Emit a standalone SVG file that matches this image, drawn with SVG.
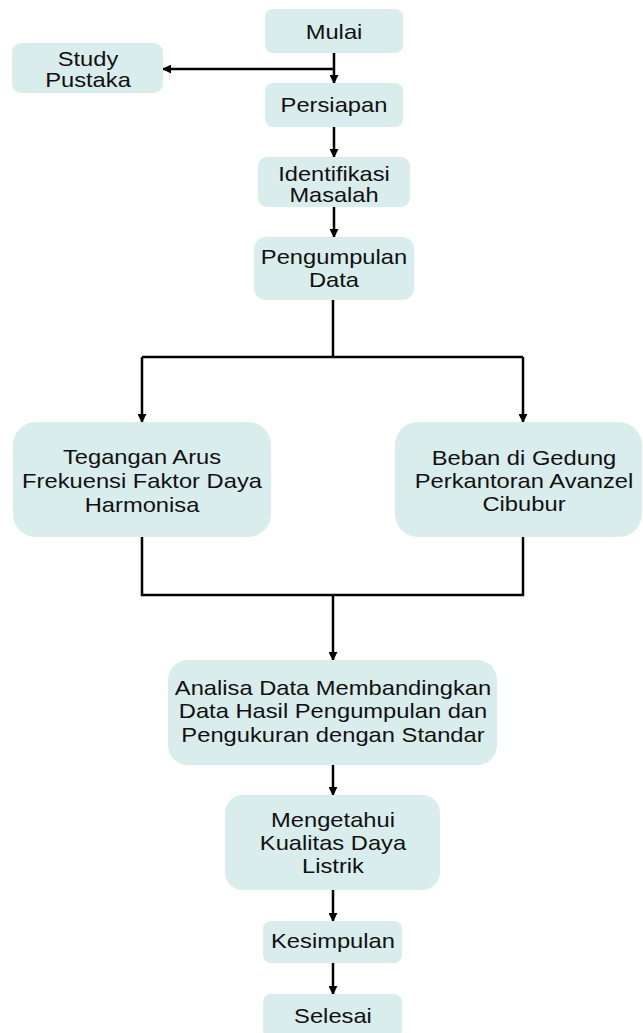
<svg xmlns="http://www.w3.org/2000/svg" width="643" height="1033" viewBox="0 0 643 1033">
  <style>
    .box { fill: #d9edec; stroke: none; }
    .lbl { font-family: "Liberation Sans", Arial, sans-serif; font-size: 21px; fill: #111; text-anchor: middle; }
    .tight { font-size: 20px; }
    .conn { fill: none; stroke: #000; stroke-width: 2.5; }
  </style>
  <defs>
    <marker id="arr" viewBox="0 0 10 10" refX="9" refY="5" markerWidth="9" markerHeight="9" markerUnits="userSpaceOnUse" orient="auto">
      <path d="M0,0 L10,5 L0,10 z" fill="#000"/>
    </marker>
  </defs>
  <rect width="643" height="1033" fill="#fff"/>

  <g id="connectors">
    <path class="conn" d="M334,53 V83" marker-end="url(#arr)"/>
    <path class="conn" d="M334,69 H163" marker-end="url(#arr)"/>
    <path class="conn" d="M334,127 V157" marker-end="url(#arr)"/>
    <path class="conn" d="M334,207 V237" marker-end="url(#arr)"/>
    <path class="conn" d="M333,300 V357"/>
    <path class="conn" d="M142,357 H523"/>
    <path class="conn" d="M142,357 V422" marker-end="url(#arr)"/>
    <path class="conn" d="M523,357 V422" marker-end="url(#arr)"/>
    <path class="conn" d="M142,537 V595 H523 V537"/>
    <path class="conn" d="M333,595 V660" marker-end="url(#arr)"/>
    <path class="conn" d="M333,765 V795" marker-end="url(#arr)"/>
    <path class="conn" d="M333,890 V921" marker-end="url(#arr)"/>
    <path class="conn" d="M333,963 V994" marker-end="url(#arr)"/>
  </g>

  <g id="mulai">
    <rect class="box" x="265" y="9" width="138" height="44" rx="8"/>
    <text class="lbl" transform="translate(334 39) scale(1.13 1)">Mulai</text>
  </g>
  <g id="study-pustaka">
    <rect class="box" x="12" y="43" width="151" height="50" rx="9"/>
    <text class="lbl" transform="translate(88 65.5) scale(1.13 1)"><tspan x="0" y="0">Study</tspan><tspan x="0" y="21.5">Pustaka</tspan></text>
  </g>
  <g id="persiapan">
    <rect class="box" x="265" y="83" width="138" height="44" rx="8"/>
    <text class="lbl" transform="translate(334 111.5) scale(1.13 1)">Persiapan</text>
  </g>
  <g id="identifikasi">
    <rect class="box" x="258" y="157" width="152" height="50" rx="9"/>
    <text class="lbl tight" transform="translate(334 181) scale(1.18 1)"><tspan x="0" y="0">Identifikasi</tspan><tspan x="0" y="21">Masalah</tspan></text>
  </g>
  <g id="pengumpulan">
    <rect class="box" x="254" y="237" width="160" height="63" rx="12"/>
    <text class="lbl" transform="translate(334 264) scale(1.13 1)"><tspan x="0" y="0">Pengumpulan</tspan><tspan x="0" y="23">Data</tspan></text>
  </g>
  <g id="tegangan">
    <rect class="box" x="13" y="422" width="258" height="115" rx="23"/>
    <text class="lbl" transform="translate(142 464) scale(1.13 1)"><tspan x="0" y="0">Tegangan Arus</tspan><tspan x="0" y="24">Frekuensi Faktor Daya</tspan><tspan x="0" y="48">Harmonisa</tspan></text>
  </g>
  <g id="beban">
    <rect class="box" x="395" y="422" width="247" height="115" rx="23"/>
    <text class="lbl" transform="translate(524 465) scale(1.13 1)"><tspan x="0" y="0">Beban di Gedung</tspan><tspan x="0" y="23">Perkantoran Avanzel</tspan><tspan x="0" y="46">Cibubur</tspan></text>
  </g>
  <g id="analisa">
    <rect class="box" x="168" y="660" width="329" height="105" rx="20"/>
    <text class="lbl" transform="translate(333 695) scale(1.13 1)"><tspan x="0" y="0">Analisa Data Membandingkan</tspan><tspan x="0" y="23.5">Data Hasil Pengumpulan dan</tspan><tspan x="0" y="47">Pengukuran dengan Standar</tspan></text>
  </g>
  <g id="mengetahui">
    <rect class="box" x="225" y="795" width="215" height="95" rx="18"/>
    <text class="lbl" transform="translate(333 827) scale(1.13 1)"><tspan x="0" y="0">Mengetahui</tspan><tspan x="0" y="23">Kualitas Daya</tspan><tspan x="0" y="46">Listrik</tspan></text>
  </g>
  <g id="kesimpulan">
    <rect class="box" x="263" y="921" width="139" height="42" rx="8"/>
    <text class="lbl" transform="translate(333 947.5) scale(1.13 1)">Kesimpulan</text>
  </g>
  <g id="selesai">
    <rect class="box" x="263" y="994" width="139" height="44" rx="8"/>
    <text class="lbl" transform="translate(333 1023) scale(1.13 1)">Selesai</text>
  </g>
</svg>
